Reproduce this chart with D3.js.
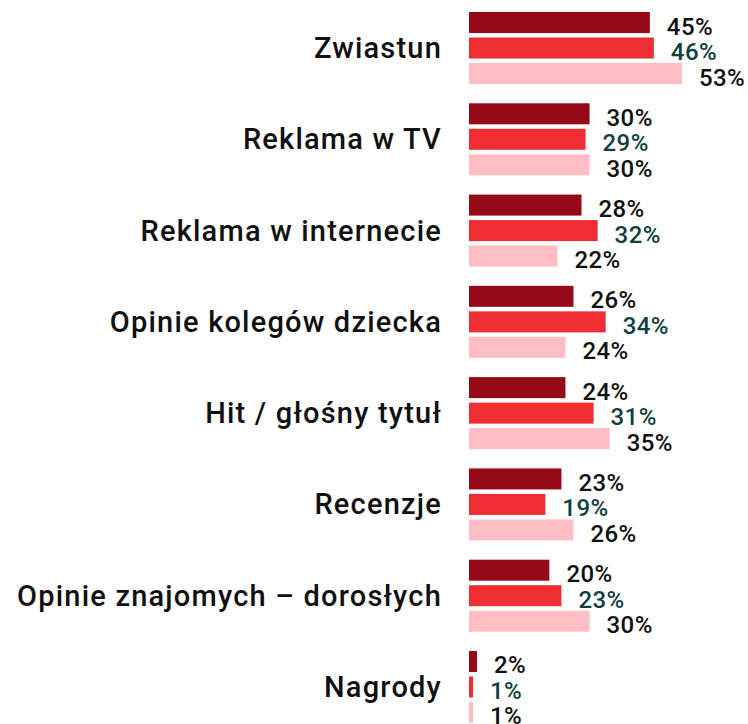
<!DOCTYPE html>
<html>
<head>
<meta charset="utf-8">
<script src="https://cdn.jsdelivr.net/npm/d3@7/dist/d3.min.js"></script>
<style>
  body { margin: 0; background: #fff; }
  text { font-family: Roboto, "Noto Sans", sans-serif; font-weight: 500; }
</style>
</head>
<body>
<div id="chart"></div>
<script>
var categories = ["Zwiastun", "Reklama w TV", "Reklama w internecie", "Opinie kolegów dziecka",
    "Hit / głośny tytuł", "Recenzje", "Opinie znajomych – dorosłych", "Nagrody"];
var series = ["s1", "s2", "s3"];
var s1 = [45, 30, 28, 26, 24, 23, 20, 2];
var s2 = [46, 29, 32, 34, 31, 19, 23, 1];
var s3 = [53, 30, 22, 24, 35, 26, 30, 1];
var colors = ["#960a17", "#ef2e33", "#ffbec4"];
var labelColors = ["#111", "#123f42", "#111"];

var width = 748, height = 724;

var data = categories.map(function (c, i) {
    return { cat: c, values: [s1[i], s2[i], s3[i]] };
});

var svg = d3.select("#chart").append("svg")
    .attr("width", width)
    .attr("height", height);

var y0 = d3.scaleBand()
    .domain(categories)
    .range([12, 723])
    .paddingInner(0.211);

var y1 = d3.scaleBand()
    .domain(series)
    .range([0, y0.bandwidth()])
    .paddingInner(0.176);

var x = d3.scaleLinear()
    .domain([0, 53])
    .range([469, 682]);

var groups = svg.selectAll("g.group")
    .data(data)
    .enter().append("g")
    .attr("class", "group")
    .attr("transform", function (d) { return "translate(0," + y0(d.cat) + ")"; });

// category names, right aligned against the bars
groups.append("text")
    .attr("x", 442)
    .attr("y", y0.bandwidth() / 2)
    .attr("text-anchor", "end")
    .attr("dominant-baseline", "central")
    .style("font-size", "29px")
    .style("letter-spacing", "1.2px")
    .style("fill", "#111")
    .text(function (d) { return d.cat; });

groups.selectAll("rect")
    .data(function (d) { return d.values; })
    .enter().append("rect")
    .attr("x", x(0))
    .attr("y", function (d, i) { return y1(series[i]); })
    .attr("width", function (d) { return x(d) - x(0); })
    .attr("height", y1.bandwidth())
    .style("fill", function (d, i) { return colors[i]; });

groups.selectAll("text.val")
    .data(function (d) { return d.values; })
    .enter().append("text")
    .attr("class", "val")
    .attr("x", function (d) { return x(d) + 17; })
    .attr("y", function (d, i) { return y1(series[i]) + y1.bandwidth() / 2 + 4; })
    .attr("dominant-baseline", "central")
    .style("font-size", "24px")
    .style("letter-spacing", "0.4px")
    .style("fill", function (d, i) { return labelColors[i]; })
    .text(function (d) { return d + "%"; });
</script>
</body>
</html>
